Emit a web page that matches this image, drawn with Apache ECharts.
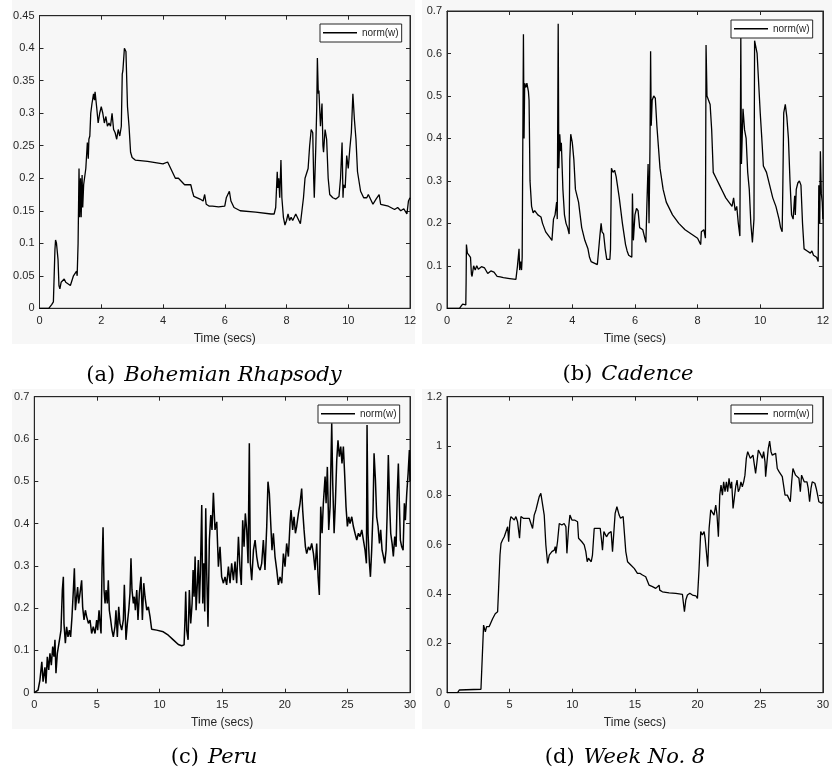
<!DOCTYPE html>
<html><head><meta charset="utf-8">
<script src="https://cdn.jsdelivr.net/npm/echarts@6/dist/echarts.min.js"></script>
<style>html,body{margin:0;padding:0;background:#fff}#c{width:832px;height:773px}</style>
</head><body><div id="c"></div>
<script>
// ---- data: [time (secs), norm(w)] ----
const bohemian = [[0,0],[0.3,0],[0.4,0.006],[0.45,0.01],[0.5,0.09],[0.52,0.105],[0.55,0.1],[0.6,0.075],[0.63,0.035],[0.66,0.03],[0.7,0.04],[0.8,0.045],[0.85,0.04],[0.9,0.037],[1.0,0.035],[1.05,0.035],[1.1,0.05],[1.2,0.057],[1.22,0.05],[1.25,0.1],[1.28,0.215],[1.3,0.14],[1.33,0.2],[1.35,0.14],[1.38,0.205],[1.4,0.155],[1.43,0.19],[1.45,0.19],[1.5,0.215],[1.55,0.255],[1.58,0.23],[1.6,0.26],[1.63,0.265],[1.66,0.3],[1.7,0.315],[1.75,0.33],[1.78,0.32],[1.8,0.333],[1.85,0.31],[1.9,0.285],[1.95,0.3],[2.0,0.31],[2.05,0.3],[2.1,0.285],[2.15,0.295],[2.2,0.28],[2.25,0.285],[2.3,0.28],[2.35,0.3],[2.4,0.275],[2.45,0.27],[2.5,0.26],[2.55,0.275],[2.6,0.265],[2.65,0.28],[2.68,0.36],[2.7,0.365],[2.75,0.4],[2.8,0.395],[2.85,0.31],[2.9,0.28],[2.95,0.24],[3.0,0.232],[3.1,0.228],[3.5,0.226],[4.0,0.222],[4.15,0.225],[4.2,0.227],[4.3,0.21],[4.4,0.2],[4.5,0.2],[4.6,0.195],[4.7,0.19],[4.8,0.19],[4.9,0.19],[4.95,0.18],[5.0,0.172],[5.2,0.168],[5.3,0.165],[5.35,0.175],[5.4,0.16],[5.5,0.157],[5.6,0.157],[5.8,0.156],[6.0,0.157],[6.05,0.17],[6.1,0.175],[6.15,0.18],[6.2,0.165],[6.3,0.155],[6.5,0.15],[7.0,0.148],[7.5,0.145],[7.6,0.145],[7.65,0.155],[7.7,0.21],[7.72,0.185],[7.75,0.2],[7.78,0.17],[7.82,0.228],[7.85,0.17],[7.9,0.14],[7.95,0.128],[8.0,0.135],[8.05,0.145],[8.1,0.135],[8.15,0.14],[8.2,0.135],[8.3,0.145],[8.4,0.135],[8.45,0.13],[8.5,0.15],[8.55,0.17],[8.6,0.2],[8.7,0.215],[8.75,0.25],[8.8,0.275],[8.85,0.27],[8.88,0.2],[8.9,0.17],[8.95,0.25],[8.98,0.31],[9.0,0.385],[9.03,0.33],[9.05,0.335],[9.1,0.28],[9.15,0.315],[9.18,0.25],[9.2,0.24],[9.25,0.275],[9.3,0.26],[9.35,0.2],[9.4,0.175],[9.5,0.17],[9.6,0.168],[9.7,0.172],[9.75,0.2],[9.8,0.255],[9.83,0.17],[9.85,0.19],[9.9,0.185],[9.95,0.235],[10.0,0.215],[10.05,0.245],[10.1,0.27],[10.15,0.33],[10.2,0.29],[10.25,0.26],[10.3,0.21],[10.4,0.18],[10.5,0.17],[10.6,0.17],[10.65,0.175],[10.7,0.17],[10.8,0.16],[10.9,0.168],[11.0,0.175],[11.05,0.16],[11.1,0.158],[11.3,0.157],[11.5,0.152],[11.6,0.155],[11.7,0.15],[11.8,0.153],[11.9,0.145],[11.95,0.165],[12.0,0.17]];

const cadence = [[0,0],[0.4,0],[0.45,0.005],[0.5,0.01],[0.55,0.01],[0.6,0.008],[0.61,0.06],[0.62,0.15],[0.65,0.13],[0.7,0.125],[0.75,0.12],[0.78,0.08],[0.8,0.075],[0.85,0.1],[0.9,0.09],[0.95,0.1],[1.0,0.092],[1.05,0.095],[1.1,0.098],[1.2,0.095],[1.3,0.082],[1.4,0.088],[1.5,0.085],[1.6,0.075],[1.7,0.074],[1.8,0.072],[2.0,0.07],[2.2,0.068],[2.25,0.1],[2.3,0.14],[2.32,0.09],[2.35,0.11],[2.38,0.09],[2.4,0.12],[2.42,0.39],[2.44,0.645],[2.46,0.4],[2.48,0.53],[2.52,0.52],[2.55,0.53],[2.6,0.51],[2.62,0.49],[2.65,0.3],[2.7,0.24],[2.75,0.225],[2.8,0.23],[2.9,0.22],[3.0,0.215],[3.05,0.2],[3.15,0.18],[3.3,0.165],[3.35,0.16],[3.4,0.21],[3.45,0.22],[3.5,0.25],[3.52,0.21],[3.55,0.67],[3.57,0.33],[3.6,0.41],[3.63,0.37],[3.65,0.39],[3.7,0.28],[3.75,0.22],[3.8,0.2],[3.85,0.19],[3.9,0.175],[3.92,0.35],[3.95,0.41],[4.0,0.39],[4.05,0.35],[4.1,0.28],[4.2,0.25],[4.3,0.19],[4.4,0.16],[4.5,0.14],[4.55,0.12],[4.6,0.11],[4.8,0.103],[4.85,0.105],[4.88,0.17],[4.92,0.2],[4.95,0.18],[5.0,0.175],[5.05,0.14],[5.1,0.115],[5.15,0.113],[5.2,0.115],[5.22,0.14],[5.25,0.33],[5.3,0.32],[5.35,0.325],[5.4,0.31],[5.5,0.26],[5.6,0.2],[5.7,0.15],[5.75,0.135],[5.8,0.125],[5.9,0.12],[5.92,0.27],[5.95,0.16],[6.0,0.22],[6.05,0.235],[6.1,0.23],[6.15,0.19],[6.25,0.185],[6.3,0.17],[6.35,0.155],[6.38,0.24],[6.42,0.34],[6.45,0.2],[6.48,0.38],[6.5,0.605],[6.52,0.43],[6.55,0.49],[6.6,0.5],[6.65,0.495],[6.7,0.43],[6.8,0.33],[6.9,0.28],[7.0,0.25],[7.2,0.22],[7.4,0.2],[7.6,0.185],[7.8,0.175],[8.0,0.165],[8.1,0.15],[8.12,0.18],[8.2,0.185],[8.25,0.165],[8.27,0.62],[8.3,0.5],[8.35,0.49],[8.4,0.48],[8.45,0.42],[8.5,0.32],[8.6,0.305],[8.7,0.29],[8.8,0.275],[8.9,0.26],[9.0,0.25],[9.1,0.24],[9.15,0.26],[9.2,0.23],[9.25,0.24],[9.3,0.2],[9.35,0.17],[9.38,0.64],[9.4,0.34],[9.45,0.47],[9.5,0.42],[9.55,0.4],[9.6,0.32],[9.65,0.28],[9.7,0.2],[9.75,0.155],[9.8,0.21],[9.82,0.63],[9.87,0.63],[9.9,0.6],[10.0,0.46],[10.05,0.4],[10.1,0.335],[10.2,0.32],[10.3,0.29],[10.4,0.26],[10.5,0.24],[10.6,0.21],[10.65,0.19],[10.7,0.18],[10.72,0.28],[10.75,0.46],[10.8,0.48],[10.85,0.45],[10.9,0.4],[10.95,0.3],[11.0,0.22],[11.05,0.21],[11.1,0.265],[11.12,0.22],[11.15,0.28],[11.2,0.295],[11.25,0.3],[11.3,0.29],[11.35,0.2],[11.4,0.14],[11.5,0.135],[11.6,0.13],[11.65,0.135],[11.7,0.125],[11.8,0.12],[11.85,0.11],[11.87,0.29],[11.9,0.2],[11.92,0.37],[11.95,0.27],[11.98,0.25],[12.0,0.21]];

const peru = [[0,0],[0.05,0.003],[0.3,0.006],[0.45,0.03],[0.6,0.073],[0.7,0.026],[0.85,0.06],[0.93,0.022],[1.04,0.085],[1.15,0.054],[1.25,0.093],[1.36,0.065],[1.47,0.109],[1.57,0.085],[1.65,0.125],[1.73,0.046],[1.84,0.093],[1.97,0.117],[2.05,0.132],[2.13,0.148],[2.24,0.243],[2.32,0.274],[2.37,0.164],[2.48,0.117],[2.58,0.156],[2.69,0.132],[2.8,0.148],[2.9,0.132],[3.01,0.18],[3.12,0.243],[3.2,0.294],[3.28,0.195],[3.38,0.227],[3.46,0.25],[3.54,0.211],[3.65,0.235],[3.78,0.266],[3.86,0.203],[3.97,0.172],[4.08,0.195],[4.18,0.18],[4.32,0.164],[4.45,0.172],[4.58,0.14],[4.71,0.156],[4.85,0.14],[4.98,0.172],[5.06,0.148],[5.17,0.195],[5.25,0.164],[5.33,0.14],[5.41,0.298],[5.49,0.391],[5.57,0.243],[5.65,0.211],[5.73,0.243],[5.83,0.211],[5.91,0.266],[5.99,0.195],[6.1,0.172],[6.2,0.148],[6.31,0.132],[6.44,0.156],[6.52,0.195],[6.63,0.132],[6.74,0.203],[6.84,0.164],[6.98,0.148],[7.11,0.172],[7.19,0.255],[7.32,0.125],[7.43,0.164],[7.54,0.195],[7.64,0.235],[7.72,0.318],[7.8,0.243],[7.91,0.211],[7.99,0.227],[8.07,0.195],[8.18,0.243],[8.28,0.172],[8.39,0.235],[8.52,0.274],[8.63,0.172],[8.74,0.259],[8.84,0.227],[8.98,0.195],[9.11,0.203],[9.24,0.18],[9.37,0.15],[9.77,0.148],[10.3,0.144],[10.7,0.136],[11.1,0.125],[11.5,0.114],[11.77,0.111],[11.96,0.113],[12.04,0.18],[12.09,0.239],[12.17,0.148],[12.28,0.125],[12.38,0.243],[12.49,0.164],[12.6,0.211],[12.68,0.29],[12.76,0.227],[12.84,0.322],[12.92,0.195],[13.02,0.259],[13.1,0.314],[13.18,0.211],[13.26,0.282],[13.37,0.444],[13.45,0.211],[13.53,0.306],[13.61,0.192],[13.69,0.436],[13.77,0.282],[13.87,0.156],[13.98,0.361],[14.09,0.42],[14.19,0.385],[14.3,0.473],[14.43,0.385],[14.57,0.404],[14.7,0.298],[14.83,0.345],[14.96,0.274],[15.1,0.259],[15.23,0.274],[15.36,0.255],[15.5,0.298],[15.63,0.259],[15.76,0.306],[15.9,0.266],[16.03,0.31],[16.16,0.259],[16.3,0.369],[16.43,0.29],[16.53,0.255],[16.64,0.408],[16.75,0.345],[16.85,0.424],[16.96,0.385],[17.07,0.306],[17.17,0.59],[17.25,0.306],[17.36,0.266],[17.5,0.337],[17.63,0.361],[17.76,0.322],[17.89,0.298],[18.03,0.29],[18.16,0.306],[18.29,0.361],[18.42,0.29],[18.56,0.393],[18.66,0.499],[18.77,0.471],[18.88,0.4],[18.98,0.337],[19.09,0.377],[19.22,0.322],[19.36,0.29],[19.49,0.255],[19.62,0.274],[19.76,0.259],[19.89,0.329],[20.02,0.298],[20.15,0.353],[20.29,0.322],[20.42,0.4],[20.5,0.432],[20.63,0.385],[20.74,0.416],[20.85,0.377],[20.95,0.393],[21.09,0.424],[21.22,0.448],[21.35,0.483],[21.43,0.432],[21.54,0.385],[21.65,0.345],[21.75,0.329],[21.89,0.345],[22.02,0.337],[22.15,0.353],[22.29,0.329],[22.42,0.29],[22.55,0.353],[22.66,0.274],[22.76,0.231],[22.87,0.44],[22.98,0.377],[23.08,0.448],[23.22,0.511],[23.3,0.448],[23.4,0.534],[23.51,0.385],[23.62,0.44],[23.75,0.637],[23.83,0.495],[23.94,0.377],[24.04,0.448],[24.15,0.55],[24.25,0.597],[24.36,0.558],[24.47,0.582],[24.57,0.542],[24.68,0.582],[24.79,0.511],[24.89,0.44],[25.0,0.393],[25.11,0.416],[25.21,0.4],[25.35,0.416],[25.48,0.393],[25.61,0.377],[25.75,0.361],[25.88,0.377],[26.01,0.369],[26.15,0.385],[26.28,0.361],[26.41,0.337],[26.52,0.306],[26.57,0.633],[26.65,0.377],[26.76,0.306],[26.84,0.274],[26.94,0.337],[27.05,0.432],[27.13,0.566],[27.24,0.503],[27.34,0.416],[27.45,0.393],[27.56,0.353],[27.66,0.385],[27.77,0.337],[27.88,0.322],[27.98,0.306],[28.09,0.337],[28.17,0.416],[28.27,0.562],[28.36,0.456],[28.46,0.377],[28.57,0.353],[28.67,0.322],[28.78,0.369],[28.89,0.345],[28.99,0.479],[29.07,0.542],[29.15,0.448],[29.23,0.361],[29.34,0.345],[29.45,0.337],[29.55,0.448],[29.63,0.408],[29.74,0.471],[29.85,0.519],[29.95,0.574],[30.0,0.5]];

const week8 = [[0,0],[0.85,0],[0.98,0.011],[1.12,0.011],[2.71,0.014],[2.84,0.014],[2.92,0.274],[2.98,0.28],[3.06,0.247],[3.16,0.268],[3.37,0.268],[3.51,0.274],[3.64,0.3],[3.85,0.32],[4.04,0.328],[4.12,0.423],[4.23,0.558],[4.31,0.605],[4.44,0.62],[4.57,0.632],[4.7,0.639],[4.84,0.673],[4.92,0.612],[5.02,0.693],[5.1,0.714],[5.24,0.707],[5.37,0.7],[5.5,0.714],[5.63,0.693],[5.71,0.7],[5.79,0.626],[5.9,0.714],[5.98,0.72],[6.09,0.707],[6.22,0.714],[6.35,0.707],[6.56,0.707],[6.7,0.707],[6.83,0.666],[6.96,0.72],[7.1,0.741],[7.23,0.768],[7.36,0.795],[7.49,0.808],[7.63,0.801],[7.76,0.72],[7.89,0.599],[8.03,0.524],[8.16,0.558],[8.37,0.572],[8.56,0.578],[8.64,0.592],[8.69,0.565],[8.82,0.612],[8.96,0.686],[9.09,0.686],[9.17,0.68],[9.22,0.673],[9.35,0.686],[9.49,0.673],[9.57,0.565],[9.7,0.666],[9.81,0.72],[9.89,0.714],[9.97,0.7],[10.07,0.693],[10.18,0.7],[10.28,0.693],[10.42,0.693],[10.5,0.626],[10.6,0.62],[10.76,0.612],[10.95,0.599],[11.08,0.572],[11.19,0.531],[11.29,0.545],[11.4,0.545],[11.51,0.531],[11.61,0.558],[11.75,0.666],[11.88,0.673],[12.01,0.666],[12.15,0.673],[12.23,0.666],[12.33,0.62],[12.41,0.578],[12.52,0.653],[12.63,0.646],[12.73,0.632],[12.89,0.646],[13.0,0.653],[13.1,0.653],[13.21,0.572],[13.32,0.653],[13.42,0.727],[13.56,0.754],[13.66,0.747],[13.74,0.72],[13.85,0.707],[13.96,0.707],[14.06,0.714],[14.17,0.707],[14.27,0.572],[14.41,0.531],[14.67,0.518],[14.81,0.518],[14.94,0.504],[15.07,0.497],[15.2,0.484],[15.39,0.484],[15.6,0.477],[15.86,0.47],[16.0,0.464],[16.13,0.436],[16.4,0.43],[16.66,0.423],[16.93,0.436],[16.98,0.416],[17.19,0.409],[17.73,0.405],[18.26,0.403],[18.79,0.399],[18.84,0.376],[18.95,0.328],[19.06,0.376],[19.19,0.396],[19.38,0.403],[19.59,0.396],[19.86,0.393],[19.99,0.382],[20.12,0.504],[20.25,0.653],[20.38,0.639],[20.52,0.653],[20.6,0.626],[20.7,0.632],[20.81,0.511],[20.92,0.666],[21.05,0.741],[21.18,0.747],[21.31,0.72],[21.45,0.761],[21.55,0.72],[21.66,0.632],[21.77,0.801],[21.87,0.842],[21.98,0.801],[22.08,0.855],[22.19,0.815],[22.3,0.855],[22.4,0.815],[22.51,0.869],[22.62,0.828],[22.72,0.855],[22.83,0.747],[22.93,0.788],[23.04,0.835],[23.15,0.862],[23.25,0.815],[23.36,0.828],[23.46,0.855],[23.57,0.835],[23.68,0.855],[23.78,0.882],[23.89,0.95],[24.0,0.977],[24.1,0.984],[24.21,0.95],[24.32,0.95],[24.42,0.963],[24.53,0.97],[24.63,0.889],[24.74,0.936],[24.85,0.984],[24.95,0.99],[25.06,0.963],[25.17,0.95],[25.27,0.977],[25.38,0.936],[25.43,0.876],[25.54,0.936],[25.64,0.99],[25.75,1.02],[25.86,0.977],[25.96,0.963],[26.1,0.963],[26.23,0.97],[26.36,0.909],[26.5,0.896],[26.63,0.889],[26.76,0.876],[26.9,0.869],[26.98,0.801],[27.16,0.801],[27.3,0.801],[27.4,0.774],[27.51,0.855],[27.61,0.909],[27.72,0.909],[27.82,0.882],[27.96,0.876],[28.09,0.869],[28.2,0.815],[28.3,0.882],[28.41,0.882],[28.51,0.855],[28.62,0.849],[28.73,0.855],[28.83,0.828],[28.94,0.774],[29.05,0.828],[29.15,0.855],[29.26,0.862],[29.36,0.849],[29.47,0.828],[29.58,0.801],[29.68,0.774],[29.79,0.774],[29.9,0.768],[30.0,0.774]];

const captions = [
  ['(a)', 'Bohemian Rhapsody'],
  ['(b)', 'Cadence'],
  ['(c)', 'Peru'],
  ['(d)', 'Week No. 8']
];
const xRanges = [[0, 12, 2], [0, 12, 2], [0, 30, 5], [0, 30, 5]];
const yRanges = [[0, 0.45, 0.05], [0, 0.7, 0.1], [0, 0.7, 0.1], [0, 1.2, 0.2]];
const xName = 'Time (secs)';
const seriesName = 'norm(w)';
const allData = [bohemian, cadence, peru, week8];

// ---- layout ----
const grids = [
  {left: 39.5, top: 15.7, width: 370.5, height: 292.6},
  {left: 447, top: 11, width: 376.3, height: 297.3},
  {left: 34.3, top: 396.7, width: 375.7, height: 296},
  {left: 447, top: 396.7, width: 376.3, height: 296}
];
const legendPos = [[320, 24], [731, 20], [318, 405], [731, 405]];
const panelRects = [[12, 0, 403, 344], [422, 0, 410, 344], [12, 389, 403, 340], [422, 389, 410, 340]];
const captionPos = [[214, 376], [628, 375], [214, 758], [625, 758]];

const AX = '#262626';
const BG = '#f7f7f7';
const sans = 'Liberation Sans, Arial, Helvetica, sans-serif';
const serif = 'DejaVu Serif, Liberation Serif, serif';
// line-only legend icon (bar, with invisible specks fixing the 34x12 box)
const legendIcon = 'path://M0,5h34v1.4h-34z M0,0h0.01v0.01h-0.01z M33.99,11.99h0.01v0.01h-0.01z';

const option = {
  animation: false,
  backgroundColor: '#ffffff',
  graphic: [],
  grid: [], xAxis: [], yAxis: [], legend: [], series: []
};

panelRects.forEach(r => option.graphic.push({
  type: 'rect', z: -10, silent: true,
  shape: {x: r[0], y: r[1], width: r[2], height: r[3]},
  style: {fill: BG}
}));
captions.forEach((c, i) => option.graphic.push({
  type: 'text', silent: true,
  x: captionPos[i][0], y: captionPos[i][1],
  style: {
    text: '{r|' + c[0] + '}{it|' + c[1] + '}',
    align: 'center', verticalAlign: 'middle',
    rich: {
      r: {fontFamily: serif, fontSize: 21, fill: '#000', padding: [0, 9, 0, 0]},
      it: {fontFamily: serif, fontStyle: 'italic', fontSize: 21, fill: '#000'}
    }
  }
}));

for (let i = 0; i < 4; i++) {
  option.grid.push(Object.assign({show: true, backgroundColor: BG, borderColor: AX, borderWidth: 1, containLabel: false}, grids[i]));
  const [x0, x1, xi] = xRanges[i];
  const [y0, y1, yi] = yRanges[i];
  const tick = {show: true, inside: true, length: 4, lineStyle: {color: AX, width: 1}};
  option.xAxis.push({
    type: 'value', gridIndex: i, min: x0, max: x1, interval: xi, position: 'bottom',
    name: xName, nameLocation: 'middle', nameGap: 24,
    nameTextStyle: {fontFamily: sans, fontSize: 12, color: AX},
    axisLine: {show: true, onZero: false, lineStyle: {color: AX, width: 1}},
    axisTick: tick, splitLine: {show: false},
    axisLabel: {fontFamily: sans, fontSize: 11, color: AX, margin: 7}
  });
  option.xAxis.push({
    type: 'value', gridIndex: i, min: x0, max: x1, interval: xi, position: 'top',
    axisLine: {show: true, onZero: false, lineStyle: {color: AX, width: 1}},
    axisTick: tick, splitLine: {show: false}, axisLabel: {show: false}
  });
  option.yAxis.push({
    type: 'value', gridIndex: i, min: y0, max: y1, interval: yi, position: 'left',
    axisLine: {show: true, onZero: false, lineStyle: {color: AX, width: 1}},
    axisTick: tick, splitLine: {show: false},
    axisLabel: {fontFamily: sans, fontSize: 11, color: AX, margin: 5,
      formatter: v => String(parseFloat(v.toFixed(4)))}
  });
  option.yAxis.push({
    type: 'value', gridIndex: i, min: y0, max: y1, interval: yi, position: 'right',
    axisLine: {show: true, onZero: false, lineStyle: {color: AX, width: 1}},
    axisTick: tick, splitLine: {show: false}, axisLabel: {show: false}
  });
  option.legend.push({
    left: legendPos[i][0], top: legendPos[i][1],
    data: [{name: seriesName, icon: legendIcon}], orient: 'vertical',
    backgroundColor: '#ffffff', borderColor: AX, borderWidth: 1, borderRadius: 0,
    padding: [3, 3], itemWidth: 34, itemHeight: 12, itemGap: 0,
    selectedMode: false,
    itemStyle: {color: '#000', borderWidth: 0},
    textStyle: {fontFamily: sans, fontSize: 10, color: AX}
  });
  option.series.push({
    type: 'line', name: seriesName, xAxisIndex: 2 * i, yAxisIndex: 2 * i,
    data: allData[i], symbol: 'none', showSymbol: false,
    lineStyle: {color: '#000', width: i === 2 ? 1.5 : 1.3}, itemStyle: {color: '#000'}
  });
}

const chart = echarts.init(document.getElementById('c'), null, {renderer: 'canvas'});
chart.setOption(option);
</script>
</body></html>
